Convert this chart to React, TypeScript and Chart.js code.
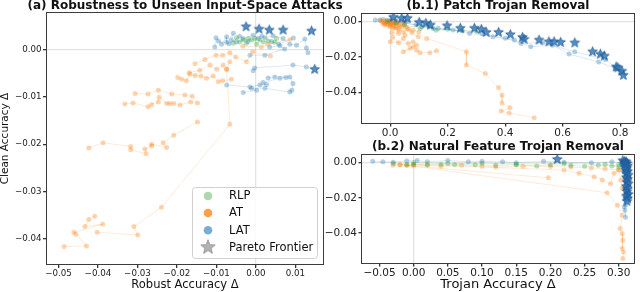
import React, { useEffect, useRef } from "react";
import { Chart, registerables } from "chart.js";
Chart.register(...registerables);

const FONT = "'DejaVu Sans', sans-serif";
const BLUE = [31, 119, 180];
const ORANGE = [255, 127, 14];
const GREEN = [44, 160, 44];

// ---------- (a) Robustness to Unseen Input-Space Attacks ----------
const A_X_TICKS = [-0.05, -0.04, -0.03, -0.02, -0.01, 0, 0.01];
const A_Y_TICKS = [0, -0.01, -0.02, -0.03, -0.04];
const A_STARS = [[-0.0025, 0.0048], [0.0008, 0.0043], [0.0034, 0.0041], [0.0069, 0.0041], [0.0141, 0.0039], [0.0149, -0.0042]];
const A_LAT = [
  [[-0.0104, 0.0005], [-0.0101, 0.0025], [-0.0087, 0.0011], [-0.0074, 0.0027], [-0.0074, 0.0015], [-0.0057, 0.0034], [-0.0062, 0.002], [-0.0049, 0.0016], [-0.0032, 0.0023], [-0.0007, 0.003], [0.0006, 0.0023]],
  [[0.0023, 0.0025], [0.0044, 0.0029], [0.0069, 0.0023], [0.0086, 0.0011], [0.0103, 0.0009], [0.0124, 0.0022], [0.0128, 0.0003], [0.0132, -0.0007]],
  [[0.0035, 0.0005], [0.0061, 0.0008], [0.0073, 0.0001], [0.0023, -0.0012], [-0.0015, -0.0012]],
  [[-0.0007, -0.0045], [-0.0003, -0.0039], [0.0094, -0.0033], [0.0128, -0.0037]],
  [[0.0031, -0.006], [0.0048, -0.0058], [0.0086, -0.0058], [0.0094, -0.0072], [0.0091, -0.0086]],
  [[-0.0074, -0.0075], [-0.0015, -0.0079], [0.001, -0.0075], [0.0027, -0.0074], [0.0018, -0.007], [0.0061, -0.0061], [0.0076, -0.0059]],
  [[-0.0032, -0.0091], [0.0002, -0.0086], [-0.0011, -0.0082], [0.0023, -0.0082], [0.0086, -0.009]],
  [[-0.0095, 0.0018], [-0.0068, 0.0012], [-0.0041, 0.0028], [-0.002, 0.0017], [0.0015, 0.0028], [0.004, 0.0017], [0.0058, 0.0011], [0.0095, 0.0024]],
];
const A_AT = [
  [[-0.0408, -0.0352], [-0.0423, -0.0359], [-0.0433, -0.0374], [-0.0388, -0.0369], [-0.0461, -0.0386], [-0.0456, -0.039], [-0.0429, -0.0415], [-0.0486, -0.0416]],
  [[-0.0402, -0.0386], [-0.0299, -0.0392], [-0.0309, -0.0374], [-0.0239, -0.0333], [-0.0066, -0.0158], [-0.0074, -0.0042]],
  [[-0.0148, -0.0153], [-0.0208, -0.0181], [-0.0235, -0.0197], [-0.0226, -0.0207], [-0.0264, -0.02], [-0.0264, -0.0204], [-0.0281, -0.021], [-0.0278, -0.022], [-0.0317, -0.0212], [-0.0317, -0.0205], [-0.0387, -0.0197], [-0.0423, -0.0208]],
  [[-0.0306, -0.0093], [-0.0273, -0.0094], [-0.0247, -0.0086], [-0.0213, -0.0094], [-0.018, -0.0096], [-0.0161, -0.0099]],
  [[-0.0332, -0.0115], [-0.0311, -0.0113], [-0.0273, -0.0121], [-0.0264, -0.0116], [-0.0247, -0.0111], [-0.0245, -0.0101], [-0.0226, -0.0114], [-0.0218, -0.0114], [-0.0208, -0.0114], [-0.0192, -0.0117], [-0.0165, -0.0111], [-0.0148, -0.0113]],
  [[-0.0198, -0.0059], [-0.0188, -0.0063], [-0.0176, -0.0066], [-0.0167, -0.0052], [-0.0154, -0.0055], [-0.0139, -0.0056], [-0.0125, -0.0061], [-0.0108, -0.0056], [-0.0095, -0.0068], [-0.0084, -0.0066], [-0.0062, -0.0063]],
  [[-0.0169, -0.0049], [-0.0142, -0.0044], [-0.0116, -0.0033], [-0.0099, -0.0042], [-0.0083, -0.0033], [-0.0074, -0.0042], [-0.0066, -0.0026]],
  [[-0.0154, -0.003], [-0.0129, -0.0021], [-0.0101, -0.0012], [-0.0084, -0.0012], [-0.0066, -0.0007], [-0.0051, -0.0016], [-0.0024, -0.0026], [-0.0008, -0.0005], [0.0037, -0.0014]],
  [[-0.0033, 0.0007], [0.0014, 0.0005], [0.003, 0.0011], [0.0086, 0.0021]],
];
const A_RLP = [
  [[-0.0057, 0.0013], [-0.0049, 0.0025], [-0.0041, 0.0016], [-0.0032, 0.002], [-0.0024, 0.0013], [-0.0019, 0.0023], [-0.0011, 0.002]],
  [[-0.0003, 0.0023], [0.0002, 0.0011], [0.001, 0.002], [0.0019, 0.0016], [0.0031, 0.0018], [0.0048, 0.0015], [0.0052, 0.0023]],
];

// ---------- (b.1) Patch Trojan Removal ----------
const B1_X_TICKS = [0, 0.2, 0.4, 0.6, 0.8];
const B_Y_TICKS = [0, -0.02, -0.04];
const B1_STARS = [[0.011, 0.0023], [0.04, 0.0017], [0.06, 0.0017], [0.101, -0.0006], [0.124, -0.0011], [0.14, -0.0021], [0.198, -0.0025], [0.244, -0.0039], [0.293, -0.0039], [0.317, -0.0045], [0.334, -0.0062], [0.377, -0.0062], [0.418, -0.0075], [0.46, -0.009], [0.466, -0.0101], [0.518, -0.0105], [0.552, -0.0115], [0.57, -0.0115], [0.593, -0.0118], [0.642, -0.0121], [0.704, -0.0171], [0.731, -0.0184], [0.745, -0.0195], [0.786, -0.0256], [0.792, -0.0261], [0.806, -0.028], [0.811, -0.0303]];
const B1_LAT = [
  [[-0.052, 0.0007], [-0.035, 0.0008], [-0.024, 0.001], [-0.01, 0.0005], [0.005, 0.0012], [0.02, 0.0008], [0.04, 0.0005], [0.06, 0.0]],
  [[0.0, 0.0002], [0.05, -0.0005], [0.11, -0.003], [0.167, -0.0039], [0.219, -0.0049], [0.276, -0.0068], [0.357, -0.0087], [0.432, -0.0105], [0.489, -0.0143], [0.564, -0.0134], [0.622, -0.0184], [0.725, -0.0228], [0.783, -0.0265]],
  [[0.02, -0.0005], [0.09, -0.002], [0.15, -0.004], [0.25, -0.0055], [0.32, -0.007], [0.4, -0.0095], [0.455, -0.0124], [0.53, -0.012], [0.642, -0.0171], [0.748, -0.0214], [0.8, -0.028]],
];
const B1_AT = [
  [[-0.03, 0.0], [-0.02, -0.0005], [-0.015, 0.0005], [-0.01, -0.001], [-0.005, 0.0], [0.0, -0.0015], [0.005, -0.0005], [0.01, -0.002], [0.015, -0.001], [0.02, -0.0025], [0.03, -0.0015], [0.04, -0.003], [0.05, -0.002]],
  [[-0.025, -0.001], [-0.018, -0.002], [-0.012, -0.0015], [-0.005, -0.0025], [0.0, -0.003], [0.008, -0.001], [0.012, -0.003], [0.02, -0.0035], [0.028, -0.004], [0.035, -0.0025], [0.06, -0.004], [0.075, -0.0064], [0.098, -0.0087]],
  [[0.006, -0.0064], [0.029, -0.0068], [0.052, -0.0077], [0.046, -0.0096], [0.029, -0.012], [0.009, -0.009], [0.0, -0.0115], [0.063, -0.0124], [0.08, -0.0115], [0.092, -0.0134], [0.069, -0.0152], [0.046, -0.0171], [0.08, -0.0143], [0.092, -0.0162], [0.104, -0.0177], [0.138, -0.0177], [0.161, -0.0166]],
  [[0.127, -0.0096], [0.265, -0.0171], [0.265, -0.0246], [0.331, -0.0293], [0.377, -0.0372], [0.389, -0.0415], [0.389, -0.0459], [0.417, -0.0485], [0.386, -0.0504], [0.414, -0.0515], [0.501, -0.0541]],
  [[0.01, -0.004], [0.03, -0.005], [0.046, -0.0059], [0.065, -0.0045], [0.08, -0.005], [0.1, -0.006]],
  [[-0.035, 0.0005], [-0.022, -0.0015], [-0.008, -0.0005], [0.002, -0.002], [0.018, 0.0], [0.025, -0.0012], [0.045, -0.0008], [0.055, -0.0032]],
];
const B1_RLP = [
  [[-0.01, 0.0], [0.02, -0.001], [0.05, -0.002], [0.104, -0.004], [0.138, -0.003], [0.16, -0.005], [0.2, -0.0045], [0.25, -0.005], [0.3, -0.0055]],
];

// ---------- (b.2) Natural Feature Trojan Removal ----------
const B2_X_TICKS = [-0.05, 0, 0.05, 0.1, 0.15, 0.2, 0.25, 0.3];
const B2_STARS = [[0.21, 0.0019], [0.306, 0.0012], [0.309, 0.0008], [0.311, 0.0004], [0.308, 0.0], [0.312, -0.0005], [0.31, -0.001], [0.313, -0.0018], [0.309, -0.0025], [0.312, -0.003], [0.31, -0.004], [0.313, -0.005], [0.311, -0.006], [0.314, -0.007], [0.311, -0.0085], [0.313, -0.0095], [0.312, -0.011], [0.314, -0.012], [0.311, -0.0135], [0.313, -0.015], [0.312, -0.0165], [0.314, -0.018], [0.311, -0.019], [0.313, -0.0205], [0.312, -0.022]];
const B2_LAT = [
  [[-0.06, 0.0008], [-0.045, 0.0005], [-0.03, 0.0003], [-0.01, 0.001], [0.005, 0.0012], [0.02, 0.0006], [0.05, 0.0012], [0.08, 0.0005], [0.1, 0.0008], [0.13, 0.0005], [0.15, 0.0], [0.19, 0.0008], [0.22, 0.0003], [0.26, 0.0], [0.29, 0.0005], [0.305, 0.0]],
  [[0.31, -0.002], [0.312, -0.008], [0.309, -0.014], [0.311, -0.02], [0.31, -0.024], [0.309, -0.027], [0.31, -0.031], [0.308, -0.025]],
];
const B2_AT = [
  [[-0.03, -0.0015], [-0.02, -0.0012], [-0.01, -0.0015], [0.0, -0.0018], [0.02, -0.0015], [0.04, -0.002], [0.07, -0.0015], [0.1, -0.002], [0.12, -0.0025], [0.16, -0.002], [0.2, -0.0022], [0.23, -0.0025], [0.26, -0.003], [0.28, -0.0035], [0.3, -0.004]],
  [[-0.02, -0.0012], [0.197, -0.0086]],
  [[-0.01, -0.0015], [0.283, -0.0171], [0.298, -0.0242], [0.305, -0.0299], [0.302, -0.0375], [0.305, -0.0403], [0.306, -0.0442], [0.305, -0.0489], [0.307, -0.0508], [0.306, -0.0546]],
  [[0.0, -0.001], [0.22, -0.0042], [0.242, -0.006], [0.264, -0.008], [0.276, -0.0099], [0.288, -0.012], [0.293, -0.006], [0.3, -0.0042], [0.303, -0.0099], [0.305, -0.0146], [0.308, -0.015], [0.31, -0.018]],
];
const B2_RLP = [
  [[-0.03, -0.0005], [-0.01, -0.001], [0.0, -0.0008], [0.02, -0.0012], [0.04, -0.0008], [0.06, -0.001], [0.09, -0.0012], [0.12, -0.0015], [0.15, -0.0012], [0.18, -0.0018], [0.2, -0.0012], [0.23, -0.0015], [0.25, -0.002], [0.27, -0.0015], [0.29, -0.0018], [0.3, -0.001]],
  [[0.0, 0.0], [0.05, -0.0005], [0.1, -0.0003], [0.15, -0.0008], [0.22, -0.0005], [0.28, -0.0008], [0.3, -0.0025]],
];

const LEGEND_LABELS = ["RLP", "AT", "LAT", "Pareto Frontier"];

const rgba = (c: number[], a: number) => `rgba(${c[0]},${c[1]},${c[2]},${a})`;
const fmt = (v: number, d: number) => (v < -1e-9 ? "\u2212" : "") + Math.abs(v).toFixed(d);

function makeStar(R: number, fill: string, stroke: string) {
  const c = document.createElement("canvas");
  const s = Math.ceil(2 * R + 3);
  c.width = s;
  c.height = s;
  const g = c.getContext("2d")!;
  g.translate(s / 2, s / 2);
  g.beginPath();
  for (let i = 0; i < 10; i++) {
    const ang = -Math.PI / 2 + (i * Math.PI) / 5;
    const r = i % 2 ? R * 0.42 : R;
    const px = r * Math.cos(ang), py = r * Math.sin(ang);
    if (i === 0) g.moveTo(px, py); else g.lineTo(px, py);
  }
  g.closePath();
  g.fillStyle = fill;
  g.fill();
  g.lineWidth = 0.8;
  g.strokeStyle = stroke;
  g.stroke();
  return c;
}

type Panel = {
  title: string;
  titleY: number;
  area: { left: number; right: number; top: number; bottom: number };
  xMin: number; xMax: number; yMin: number; yMax: number;
  xTicks: number[]; yTicks: number[]; xDec: number; yDec: number;
  tickSize: number; tickLen: number;
  xLabel?: string; xLabelSize?: number; yLabel?: string; yLabelSize?: number;
  xAxisH: number;
  stars: number[][];
  lat: number[][][]; at: number[][][]; rlp: number[][][];
  legend?: boolean;
};

function build(canvas: HTMLCanvasElement, p: Panel, star: HTMLCanvasElement, legendStar: HTMLCanvasElement) {
  const datasets: any[] = [];
  datasets.push({
    data: p.stars.map(([x, y]) => ({ x, y })),
    showLine: false, pointStyle: star, pointRadius: 5, order: 0,
  });
  const groups: [number[][][], number[], number][] = [[p.rlp, GREEN, 1], [p.at, ORANGE, 2], [p.lat, BLUE, 3]];
  groups.forEach(([runs, col, ord]) => {
    runs.forEach((run) => {
      datasets.push({
        data: run.map(([x, y]) => ({ x, y })),
        showLine: true,
        borderColor: rgba(col, 0.16),
        borderWidth: 1,
        pointRadius: 2.5,
        pointBackgroundColor: rgba(col, 0.33),
        pointBorderWidth: 0,
        order: ord,
      });
    });
  });
  const W = canvas.width, H = canvas.height;
  const zeroGrid = {
    drawOnChartArea: true,
    color: (c: any) => (c.tick && Math.abs(c.tick.value) < 1e-12 ? "rgba(0,0,0,0.11)" : "rgba(0,0,0,0)"),
    tickColor: "#333",
    tickLength: p.tickLen,
    lineWidth: 1.3,
  };
  const decor = {
    id: "decor",
    afterDatasetsDraw(chart: any) {
      const { ctx, chartArea: a } = chart;
      ctx.save();
      ctx.strokeStyle = "#3c3c3c";
      ctx.lineWidth = 1;
      ctx.strokeRect(Math.round(a.left) - 0.5, Math.round(a.top) - 0.5, Math.round(a.right - a.left) + 1, Math.round(a.bottom - a.top) + 1);
      ctx.restore();
    },
    afterDraw(chart: any) {
      const { ctx, chartArea: a } = chart;
      ctx.save();
      ctx.fillStyle = "#111";
      ctx.font = `bold 12px ${FONT}`;
      ctx.textAlign = "center";
      ctx.textBaseline = "middle";
      ctx.fillText(p.title, (a.left + a.right) / 2, p.titleY);
      if (p.legend) {
        const lx = 192, ly = 187, lw = 125, lh = 71;
        ctx.beginPath();
        ctx.roundRect(lx + 0.5, ly + 0.5, lw, lh, 3);
        ctx.fillStyle = "rgba(255,255,255,0.85)";
        ctx.fill();
        ctx.strokeStyle = "#d0d0d0";
        ctx.lineWidth = 1;
        ctx.stroke();
        const ys = [196, 213, 230.3, 247.3];
        const cols = [rgba(GREEN, 0.4), rgba(ORANGE, 0.75), rgba(BLUE, 0.6)];
        ctx.font = `11.5px ${FONT}`;
        ctx.textAlign = "left";
        LEGEND_LABELS.forEach((lab, i) => {
          if (i < 3) {
            ctx.beginPath();
            ctx.arc(208, ys[i], 4.3, 0, Math.PI * 2);
            ctx.fillStyle = cols[i];
            ctx.fill();
          } else {
            ctx.drawImage(legendStar, 208 - legendStar.width / 2, ys[i] - legendStar.height / 2);
          }
          ctx.fillStyle = "#111";
          ctx.fillText(lab, 229, ys[i] + 0.5);
        });
      }
      ctx.restore();
    },
  };
  const chart = new Chart(canvas, {
    type: "scatter",
    data: { datasets },
    plugins: [decor],
    options: {
      responsive: false,
      animation: false,
      devicePixelRatio: 1,
      events: [],
      layout: {
        padding: {
          left: p.area.left - 40,
          right: W - p.area.right,
          top: p.area.top,
          bottom: H - p.area.bottom - p.xAxisH,
        },
      },
      plugins: { legend: { display: false }, tooltip: { enabled: false }, title: { display: false } },
      scales: {
        x: {
          type: "linear",
          min: p.xMin, max: p.xMax,
          afterBuildTicks: (s: any) => { s.ticks = p.xTicks.map((v) => ({ value: v })); },
          afterFit: (s: any) => { s.height = p.xAxisH; },
          ticks: { callback: (v: any) => fmt(Number(v), p.xDec), color: "#222", font: { size: p.tickSize, family: FONT }, padding: 0.5, maxRotation: 0, autoSkip: false },
          grid: zeroGrid,
          border: { display: false },
          title: p.xLabel
            ? { display: true, text: p.xLabel, color: "#111", font: { size: p.xLabelSize || 12, family: FONT }, padding: { top: 0, bottom: 0 } }
            : { display: false },
        },
        y: {
          type: "linear",
          min: p.yMin, max: p.yMax,
          afterBuildTicks: (s: any) => { s.ticks = p.yTicks.map((v) => ({ value: v })); },
          ticks: { callback: (v: any) => fmt(Number(v), p.yDec), color: "#222", font: { size: p.tickSize, family: FONT }, padding: 1.5, autoSkip: false },
          grid: zeroGrid,
          border: { display: false },
          title: p.yLabel
            ? { display: true, text: p.yLabel, color: "#111", font: { size: p.yLabelSize || 11, family: FONT }, padding: { top: 0, bottom: 1.5 } }
            : { display: false },
        },
      },
    } as any,
  });
  // second pass: shift the padding so that the plot area sits exactly where the reference has it
  const a = chart.chartArea;
  const opts: any = chart.config.options;
  const pad = opts.layout.padding;
  const dl = p.area.left - a.left, dt = p.area.top - a.top, dr = a.right - p.area.right, db = a.bottom - p.area.bottom;
  if (Math.abs(dl) + Math.abs(dt) + Math.abs(dr) + Math.abs(db) > 0.01) {
    opts.layout.padding = { left: pad.left + dl, top: pad.top + dt, right: pad.right + dr, bottom: pad.bottom + db };
    chart.update();
  }
  return chart;
}

const PANELS: Panel[] = [
  {
    title: "(a) Robustness to Unseen Input-Space Attacks", titleY: 6,
    area: { left: 47, right: 323, top: 13, bottom: 264 },
    xMin: -0.0529, xMax: 0.017, yMin: -0.0453, yMax: 0.0077,
    xTicks: A_X_TICKS, yTicks: A_Y_TICKS, xDec: 2, yDec: 2,
    tickSize: 8.7, tickLen: 4,
    xLabel: "Robust Accuracy \u0394", xLabelSize: 11.5, yLabel: "Clean Accuracy \u0394", yLabelSize: 10.5,
    xAxisH: 28,
    stars: A_STARS, lat: A_LAT, at: A_AT, rlp: A_RLP, legend: true,
  },
  {
    title: "(b.1) Patch Trojan Removal", titleY: 6,
    area: { left: 362, right: 634, top: 14, bottom: 123 },
    xMin: -0.098, xMax: 0.848, yMin: -0.0571, yMax: 0.0041,
    xTicks: B1_X_TICKS, yTicks: B_Y_TICKS, xDec: 1, yDec: 2,
    tickSize: 10.5, tickLen: 3.5,
    xAxisH: 16,
    stars: B1_STARS, lat: B1_LAT, at: B1_AT, rlp: B1_RLP,
  },
  {
    title: "(b.2) Natural Feature Trojan Removal", titleY: 147,
    area: { left: 362, right: 634, top: 155, bottom: 263 },
    xMin: -0.0756, xMax: 0.3223, yMin: -0.0571, yMax: 0.0044,
    xTicks: B2_X_TICKS, yTicks: B_Y_TICKS, xDec: 2, yDec: 2,
    tickSize: 10.5, tickLen: 3.5,
    xLabel: "Trojan Accuracy \u0394", xLabelSize: 13,
    xAxisH: 29,
    stars: B2_STARS, lat: B2_LAT, at: B2_AT, rlp: B2_RLP,
  },
];

export default function App() {
  const refs = [useRef<HTMLCanvasElement>(null), useRef<HTMLCanvasElement>(null), useRef<HTMLCanvasElement>(null)];
  useEffect(() => {
    const star = makeStar(5, "rgba(45,120,185,0.82)", "rgba(30,85,145,0.95)");
    const legendStar = makeStar(7.5, "rgba(160,160,160,0.8)", "rgba(130,130,130,0.9)");
    const charts = PANELS.map((p, i) => build(refs[i].current!, p, star, legendStar));
    return () => charts.forEach((c) => c.destroy());
  }, []);
  return (
    <div style={{ position: "fixed", left: 0, top: 0, width: 640, height: 292, background: "#fff" }}>
      {refs.map((r, i) => (
        <canvas key={i} ref={r} width={640} height={292} style={{ position: "absolute", left: 0, top: 0, width: 640, height: 292 }} />
      ))}
    </div>
  );
}
